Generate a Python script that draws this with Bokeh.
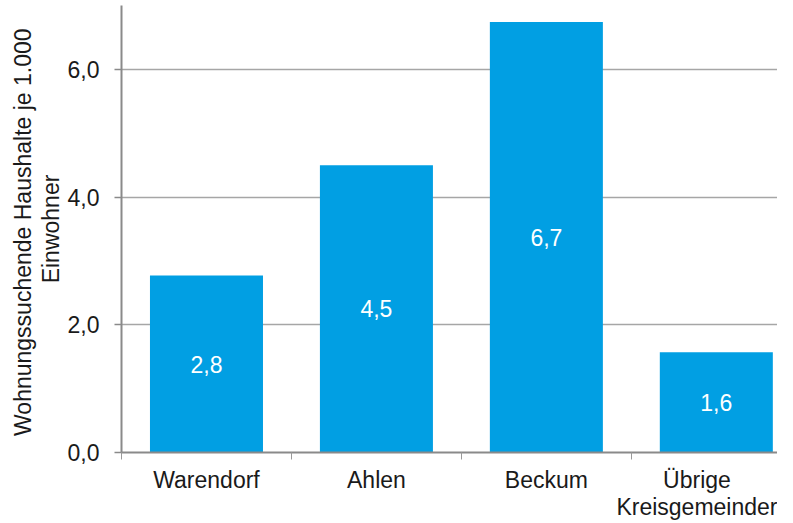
from bokeh.plotting import figure
from bokeh.models import ColumnDataSource, FixedTicker, Range1d
from bokeh.embed import file_html
from bokeh.resources import INLINE
from bokeh.core.properties import value

# ---- data ----
categories = ["Warendorf", "Ahlen", "Beckum", "Übrige\nKreisgemeinder"]
values = [2.77, 4.50, 6.74, 1.57]
y_ticks = [0, 2, 4, 6]
y_tick_labels = ["0,0", "2,0", "4,0", "6,0"]
y_title = "Wohnungssuchende  Haushalte je 1.000\nEinwohner"

FONT = "Liberation Sans"
FS = "23px"
TXT = "#1a1a1a"
BAR = "#019fe3"

xs = [i + 0.5 for i in range(len(categories))]
labels = [f"{v:.1f}".replace(".", ",") for v in values]
src = ColumnDataSource(dict(x=xs, top=values, mid=[v / 2 for v in values], lab=labels))

p = figure(width=777, height=523, output_backend="svg", toolbar_location=None,
           x_range=Range1d(0, 3.86), y_range=Range1d(0, 7.0),
           min_border_left=121, min_border_right=0, min_border_top=5, min_border_bottom=71)
p.outline_line_color = None
p.background_fill_color = "white"

p.vbar(x="x", top="top", width=0.665, bottom=0, source=src, fill_color=BAR, line_color=None)
p.text(x="x", y="mid", text="lab", source=src, text_color="white",
       text_font=value(FONT), text_font_size=FS, text_align="center", text_baseline="middle")

# grid
p.xgrid.grid_line_color = None
p.ygrid.ticker = FixedTicker(ticks=y_ticks[1:])
p.ygrid.grid_line_color = "#a6a6a6"
p.ygrid.grid_line_width = 1.5

# y axis
ya = p.yaxis[0]
ya.ticker = FixedTicker(ticks=y_ticks)
ya.major_label_overrides = {t: l for t, l in zip(y_ticks, y_tick_labels)}
ya.axis_line_color = "#8a8a8a"
ya.axis_line_width = 2
ya.major_tick_line_color = "#8a8a8a"
ya.major_tick_line_width = 1.5
ya.major_tick_out = 7
ya.major_tick_in = 0
ya.minor_tick_line_color = None
ya.major_label_standoff = 15
ya.major_label_text_font = FONT
ya.major_label_text_font_size = FS
ya.major_label_text_color = TXT
ya.axis_label = y_title
ya.axis_label_text_font = FONT
ya.axis_label_text_font_size = FS
ya.axis_label_text_font_style = "normal"
ya.axis_label_text_color = TXT
ya.axis_label_standoff = 1
ya.axis_label_text_line_height = 1.05

# x axis
xa = p.xaxis[0]
xa.ticker = FixedTicker(ticks=xs, minor_ticks=list(range(len(categories) + 1)))
xa.major_label_overrides = {x: c for x, c in zip(xs, categories)}
xa.axis_line_color = "#8a8a8a"
xa.axis_line_width = 2
xa.major_tick_line_color = None
xa.minor_tick_line_color = "#9a9a9a"
xa.minor_tick_line_width = 1
xa.minor_tick_out = 7
xa.minor_tick_in = 0
xa.major_label_standoff = 7
xa.major_label_text_font = FONT
xa.major_label_text_font_size = FS
xa.major_label_text_color = TXT
xa.major_label_text_line_height = 1.05

open("out.html", "w").write(file_html(p, INLINE))
